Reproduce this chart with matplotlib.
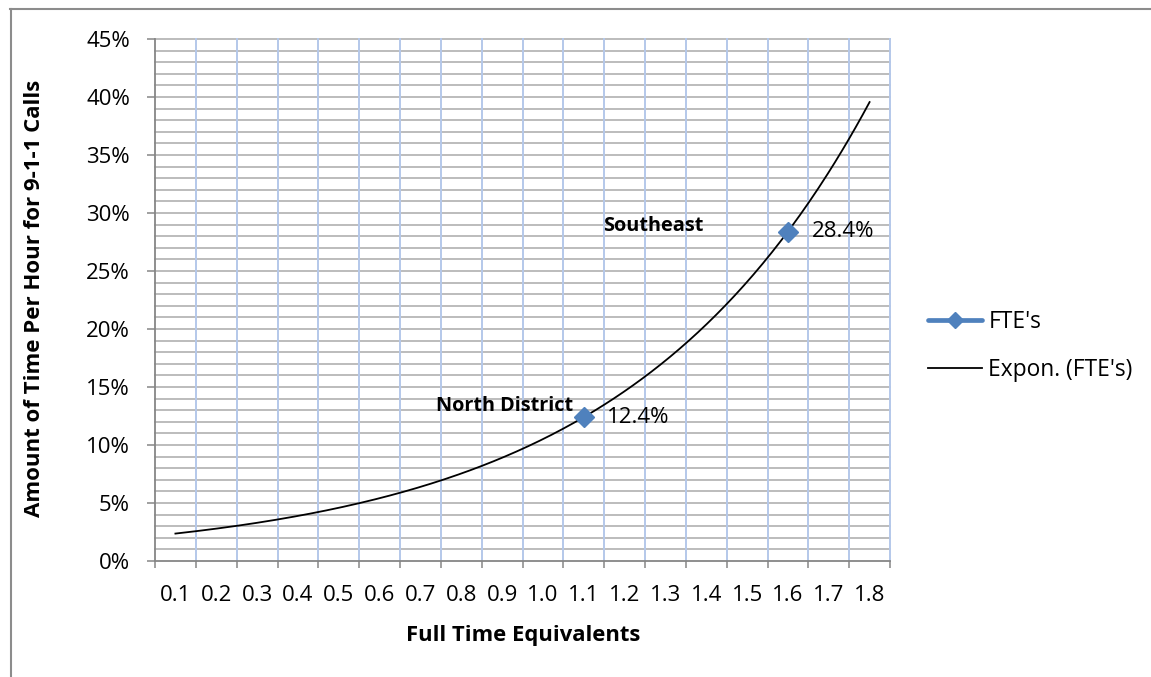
import numpy as np
import matplotlib
matplotlib.use("Agg")
import matplotlib.pyplot as plt
from matplotlib.lines import Line2D
from matplotlib.ticker import FixedLocator, NullFormatter, FixedFormatter, PercentFormatter

# ---- data ----
fte_labels = ["0.1", "0.2", "0.3", "0.4", "0.5", "0.6", "0.7", "0.8", "0.9",
              "1.0", "1.1", "1.2", "1.3", "1.4", "1.5", "1.6", "1.7", "1.8"]
point_categories = ["1.1", "1.6"]
point_values = [0.124, 0.284]
point_names = ["North District", "Southeast"]
value_labels = ["12.4%", "28.4%"]
y_max = 0.45

plt.rcParams['font.family'] = ['Open Sans', 'DejaVu Sans']

W, H = 1151, 677
fig = plt.figure(figsize=(W / 100, H / 100), dpi=100)
ax = fig.add_axes([155 / W, 1 - 561 / H, 735 / W, 522 / H])

n = len(fte_labels)
ax.set_xlim(0.5, n + 0.5)
ax.set_ylim(0, y_max)

# grid lines (drawn manually so edge lines are not clipped)
for yv in np.arange(0, y_max + 1e-9, 0.01)[1:]:
    ax.axhline(yv, color='#B6B6B6', lw=1.3, zorder=1, clip_on=False)
for xv in np.arange(0.5, n + 0.51, 1.0)[1:]:
    ax.axvline(xv, color='#B4C8EA', lw=1.4, zorder=1.1, clip_on=False)

# ticks
ax.xaxis.set_major_locator(FixedLocator(np.arange(0.5, n + 0.51, 1.0)))
ax.xaxis.set_major_formatter(NullFormatter())
ax.xaxis.set_minor_locator(FixedLocator(np.arange(1, n + 1)))
ax.xaxis.set_minor_formatter(FixedFormatter(fte_labels))
ax.tick_params(axis='x', which='major', length=5, width=1.1, color='#868686', direction='out')
ax.tick_params(axis='x', which='minor', length=0, pad=17, labelsize=16, labelcolor='black')

ax.yaxis.set_major_locator(FixedLocator(np.arange(0, y_max + 1e-9, 0.05)))
ax.yaxis.set_major_formatter(PercentFormatter(1.0, decimals=0))
ax.tick_params(axis='y', which='major', length=6, width=1.1, color='#868686',
               direction='out', pad=12, labelsize=16)

for s in ['top', 'right']:
    ax.spines[s].set_visible(False)
for s in ['left', 'bottom']:
    ax.spines[s].set_color('#868686')
    ax.spines[s].set_linewidth(1.3)
    ax.spines[s].set_zorder(3)

# exponential trendline fitted on category index
xi = np.array([fte_labels.index(c) + 1 for c in point_categories], dtype=float)
yv = np.array(point_values)
b, loga = np.polyfit(xi, np.log(yv), 1)
xs = np.linspace(1, n, 300)
ax.plot(xs, np.exp(loga) * np.exp(b * xs), color='black', lw=1.3, zorder=4, clip_on=False)

# points
ax.plot(xi, yv, linestyle='none', marker='D', ms=10, color='#4F81BD', zorder=5)

# labels
for x, y, name, vl in zip(xi, yv, point_names, value_labels):
    ax.annotate(vl, (x, y), xytext=(17, 0), textcoords='offset points',
                ha='left', va='center', fontsize=16, zorder=6)
ax.annotate(point_names[0], (xi[0], yv[0]), xytext=(-8, 8), textcoords='offset points',
            ha='right', va='center', fontsize=14.3, fontweight='bold', zorder=6)
ax.annotate(point_names[1], (xi[1], yv[1]), xytext=(-97, 4), textcoords='offset points',
            ha='center', va='center', fontsize=14.3, fontweight='bold', zorder=6)

# axis titles
fig.text(523 / W, 1 - 635 / H, "Full Time Equivalents", ha='center', va='center',
         fontsize=15.8, fontweight='bold')
fig.text(35 / W, 1 - 298 / H, "Amount of Time Per Hour for 9-1-1 Calls", ha='center',
         va='center', rotation=90, fontsize=16, fontweight='bold')

# legend
handles = [Line2D([], [], color='#4F81BD', lw=3.4, marker='D', ms=8, solid_capstyle='round'),
           Line2D([], [], color='black', lw=1.3)]
fig.legend(handles, ["FTE's", "Expon. (FTE's)"], loc='center left',
           bbox_to_anchor=(928 / W, 1 - 346 / H), frameon=False, fontsize=16.4,
           handlelength=2.35, handletextpad=0.3, labelspacing=1.05,
           borderpad=0, borderaxespad=0)

# figure border (left and top)
fig.add_artist(Line2D([11 / W, 11 / W], [0, 1 - 9 / H], transform=fig.transFigure,
                      color='#8C8C8C', lw=1.5))
fig.add_artist(Line2D([10 / W, 1], [1 - 9 / H, 1 - 9 / H], transform=fig.transFigure,
                      color='#8C8C8C', lw=1.5))

fig.savefig("out.png", dpi=100)
